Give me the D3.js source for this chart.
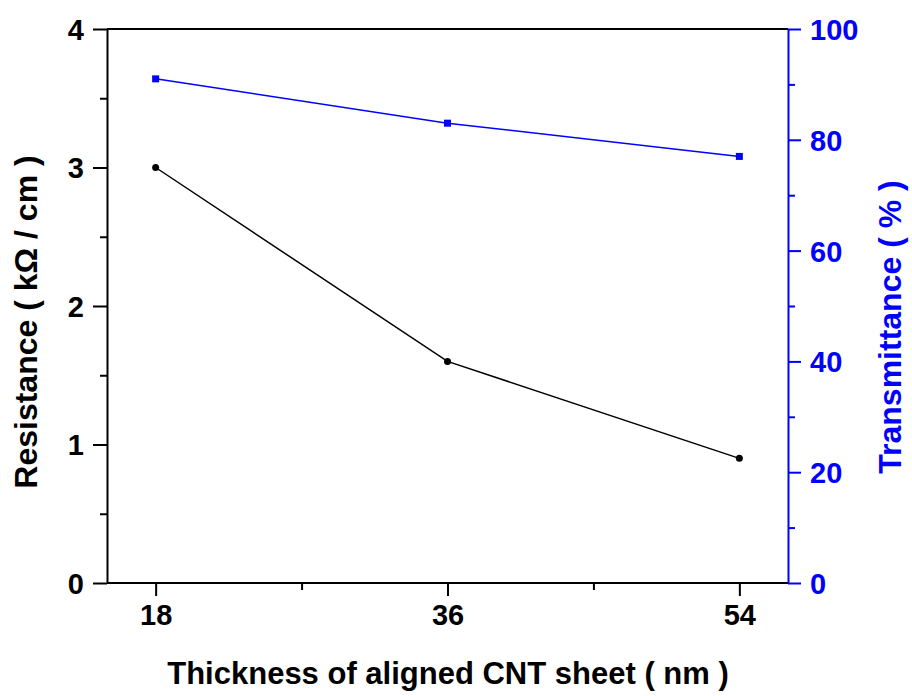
<!DOCTYPE html>
<html>
<head>
<meta charset="utf-8">
<script src="https://cdn.jsdelivr.net/npm/d3@7"></script>
<style>
  body { margin: 0; background: #fff; }
  svg text { font-family: "Liberation Sans", Arial, sans-serif; font-weight: bold; }
</style>
</head>
<body>
<svg id="svg" width="912" height="696"></svg>
<script>
// data
const thickness = [18, 36, 54];
const resistance = [3.0, 1.6, 0.9];
const transmittance = [91, 83, 77];
const xTicks = [18, 36, 54];
const leftTicks = [0, 1, 2, 3, 4];
const rightTicks = [0, 20, 40, 60, 80, 100];

const svg = d3.select("#svg");
const plotLeft = 107, plotRight = 788, plotTop = 29, plotBottom = 583;
const blue = "#0000ff";

const x = d3.scaleLinear().domain([15, 57]).range([plotLeft, plotRight]);
const yL = d3.scaleLinear().domain([0, 4]).range([plotBottom, plotTop]);
const yR = d3.scaleLinear().domain([0, 100]).range([plotBottom, plotTop]);

// top frame line
svg.append("line")
  .attr("x1", plotLeft).attr("x2", plotRight).attr("y1", plotTop).attr("y2", plotTop)
  .attr("stroke", "#000").attr("stroke-width", 2);

// bottom axis
const gx = svg.append("g").attr("transform", `translate(0,${plotBottom})`);
gx.append("g")
  .call(d3.axisBottom(x).tickValues([27, 45]).tickSize(7).tickFormat(""))
  .call((g) => g.select(".domain").remove());
gx.append("g")
  .call(d3.axisBottom(x).tickValues(xTicks).tickSize(13).tickPadding(8).tickSizeOuter(0))
  .call((g) => g.select(".domain").attr("d", `M${plotLeft},0H${plotRight}`));
gx.selectAll("line").attr("stroke", "#000").attr("stroke-width", 2);
gx.selectAll(".domain").attr("stroke", "#000").attr("stroke-width", 2);
gx.selectAll("text").attr("font-size", 29).attr("fill", "#000").attr("dy", "0.73em");

// left axis
const gl = svg.append("g").attr("transform", `translate(${plotLeft},0)`);
gl.append("g")
  .call(d3.axisLeft(yL).tickValues([0.5, 1.5, 2.5, 3.5]).tickSize(7).tickFormat(""))
  .call((g) => g.select(".domain").remove());
gl.append("g")
  .call(d3.axisLeft(yL).tickValues(leftTicks).tickSize(14).tickPadding(9)
    .tickSizeOuter(0).tickFormat(d3.format("d")));
gl.selectAll("line").attr("stroke", "#000").attr("stroke-width", 2);
gl.selectAll(".domain").attr("stroke", "#000").attr("stroke-width", 2);
gl.selectAll("text").attr("font-size", 29).attr("fill", "#000").attr("dy", "0.36em");

// right axis
const gr = svg.append("g").attr("transform", `translate(${plotRight},0)`);
gr.append("g")
  .call(d3.axisRight(yR).tickValues([10, 30, 50, 70, 90]).tickSize(7).tickFormat(""))
  .call((g) => g.select(".domain").remove());
gr.append("g")
  .call(d3.axisRight(yR).tickValues(rightTicks).tickSize(13).tickPadding(9).tickSizeOuter(0));
gr.selectAll("line").attr("stroke", blue).attr("stroke-width", 2);
gr.selectAll(".domain").attr("stroke", blue).attr("stroke-width", 2);
gr.selectAll("text").attr("font-size", 29).attr("fill", blue).attr("dy", "0.36em");

// resistance line
const resData = thickness.map((t, i) => [t, resistance[i]]);
svg.append("path")
  .datum(resData)
  .attr("fill", "none").attr("stroke", "#000").attr("stroke-width", 1.5)
  .attr("d", d3.line().x((d) => x(d[0])).y((d) => yL(d[1])));
svg.selectAll("circle.res")
  .data(resData).enter().append("circle")
  .attr("class", "res")
  .attr("cx", (d) => x(d[0])).attr("cy", (d) => yL(d[1]))
  .attr("r", 3.5).attr("fill", "#000");

// transmittance line
const trData = thickness.map((t, i) => [t, transmittance[i]]);
svg.append("path")
  .datum(trData)
  .attr("fill", "none").attr("stroke", blue).attr("stroke-width", 1.5)
  .attr("d", d3.line().x((d) => x(d[0])).y((d) => yR(d[1])));
svg.selectAll("rect.tr")
  .data(trData).enter().append("rect")
  .attr("class", "tr")
  .attr("x", (d) => x(d[0]) - 3.5).attr("y", (d) => yR(d[1]) - 3.5)
  .attr("width", 7).attr("height", 7).attr("fill", blue);

// titles
svg.append("text")
  .attr("x", 448).attr("y", 684)
  .attr("text-anchor", "middle").attr("font-size", 31).attr("fill", "#000")
  .text("Thickness of aligned CNT sheet ( nm )");

svg.append("text")
  .attr("transform", "translate(37,322) rotate(-90)")
  .attr("text-anchor", "middle").attr("font-size", 32).attr("fill", "#000")
  .text("Resistance ( kΩ / cm )");

svg.append("text")
  .attr("transform", "translate(901,327) rotate(-90)")
  .attr("text-anchor", "middle").attr("font-size", 32).attr("fill", blue)
  .text("Transmittance ( % )");
</script>
</body>
</html>
